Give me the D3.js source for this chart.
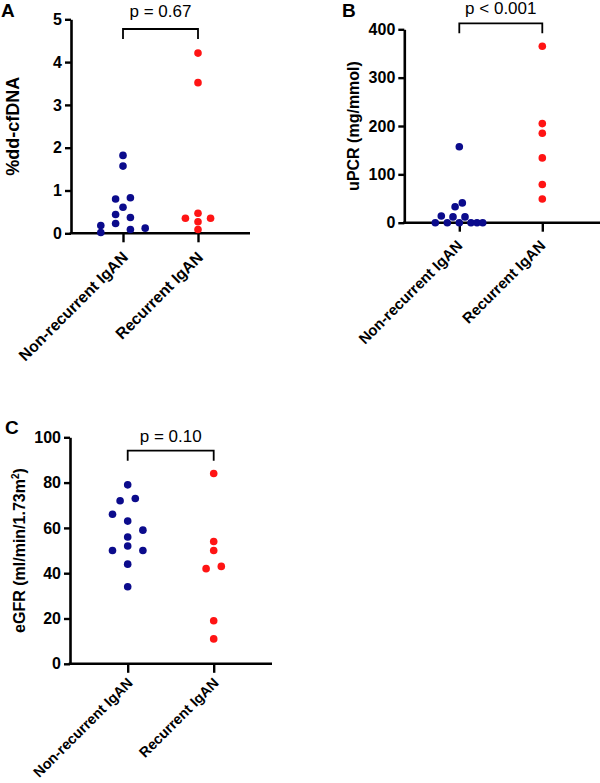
<!DOCTYPE html>
<html>
<head>
<meta charset="utf-8">
<script src="https://cdn.jsdelivr.net/npm/d3@7"></script>
<style>
  body { margin: 0; background: #fff; }
  svg { display: block; font-family: "Liberation Sans", Arial, sans-serif; }
</style>
</head>
<body>
<svg id="chart" width="600" height="783"></svg>
<script>
const categories = ["Non-recurrent IgAN", "Recurrent IgAN"];

// A: %dd-cfDNA
const cfdnaNonRec = [1.82, 1.57, 0.80, 0.83, 0.61, 0.44, 0.37, 0.23, 0.18, 0.02, 0.09, 0.12];
const cfdnaRec = [4.21, 3.52, 0.47, 0.35, 0.35, 0.27, 0.09];
const cfdnaSlotNonRec = [0, 0, -1, 1, 0, -1, 1, -1, -3, -3, 1, 3];
const cfdnaSlotRec = [0, 0, 0, -1.7, 1.7, 0, 0];

// B: uPCR
const upcrNonRec = [157, 33, 41, 14, 12, 12, 0, 0, 0, 0, 0, 0];
const upcrRec = [365, 205, 185, 134, 79, 49];
const upcrSlotNonRec = [0, -0.7, 0.5, -3, -1.05, 0.95, -4, -2, 0, 1.95, 2.95, 3.9];
const upcrSlotRec = [0, 0, 0, 0, 0, 0];

// C: eGFR
const egfrNonRec = [79, 72, 73, 66, 63, 59, 56, 50, 52, 50, 44, 34];
const egfrRec = [84, 54, 50, 42, 43, 19, 11];
const egfrSlotNonRec = [0, -1, 1, -2, 0, 2, 0, -2, 0, 2, 0, 0];
const egfrSlotRec = [0, 0, 0, -1, 1, 0, 0];

const pValues = ["p = 0.67", "p < 0.001", "p = 0.10"];
const yLabels = ["%dd-cfDNA", "uPCR (mg/mmol)", "eGFR (ml/min/1.73m"];
const yTicksA = [0, 1, 2, 3, 4, 5];
const yTicksB = [0, 100, 200, 300, 400];
const yTicksC = [0, 20, 40, 60, 80, 100];

const BLUE = "#0b0b8c";
const RED = "#ff1414";
const R = 3.8;
const FONT = "Liberation Sans, Arial, sans-serif";

const svg = d3.select("#chart");

function drawPanel(cfg) {
    const g = svg.append("g");

    const y = d3.scaleLinear().domain(cfg.domain).range([cfg.yBottom, cfg.yTop]);
    const x = d3.scalePoint().domain(categories).range(cfg.catRange);
    const jitter = d3.scaleLinear().domain([-1, 1]).range([-cfg.slot, cfg.slot]);

    // y axis
    const yAxis = g.append("g")
        .attr("transform", `translate(${cfg.xLeft},0)`)
        .call(d3.axisLeft(y).tickValues(cfg.ticks).tickFormat(d3.format("d"))
            .tickSize(6).tickPadding(3).tickSizeOuter(0));
    yAxis.select(".domain").attr("stroke-width", 2.6);
    yAxis.selectAll(".tick line").attr("stroke-width", 2.4);
    yAxis.selectAll(".tick text")
        .attr("font-size", cfg.tickFont).attr("font-weight", "bold").attr("fill", "#000")
        .attr("font-family", FONT);

    // x axis
    const xAxis = g.append("g")
        .attr("transform", `translate(0,${cfg.yBottom})`)
        .call(d3.axisBottom(x).tickSize(9).tickSizeOuter(0));
    xAxis.select(".domain").remove();
    xAxis.append("line")
        .attr("x1", cfg.xLeft - 1.3).attr("x2", cfg.xRight)
        .attr("stroke", "#000").attr("stroke-width", 2.6);
    xAxis.selectAll(".tick line").attr("stroke-width", 2.4);
    xAxis.selectAll(".tick text").remove();
    xAxis.selectAll(".tick")
        .append("text")
        .attr("text-anchor", "end")
        .attr("transform", `translate(${cfg.catDx},${cfg.catDy}) rotate(-45)`)
        .attr("font-size", cfg.catFont).attr("font-weight", "bold").attr("fill", "#000")
        .attr("font-family", FONT)
        .text(d => d);

    // points
    const pts = [];
    cfg.nonRec.forEach((v, i) => pts.push({ cat: categories[0], v, s: cfg.slotNonRec[i], c: BLUE }));
    cfg.rec.forEach((v, i) => pts.push({ cat: categories[1], v, s: cfg.slotRec[i], c: RED }));
    g.selectAll("circle.pt")
        .data(pts)
        .enter()
        .append("circle")
        .attr("class", "pt")
        .attr("cx", d => x(d.cat) + jitter(d.s))
        .attr("cy", d => y(d.v))
        .attr("r", R)
        .attr("fill", d => d.c);

    // significance bracket
    const x1 = x(categories[0]), x2 = x(categories[1]);
    g.append("path")
        .attr("d", `M${x1},${cfg.bracketY + 10}V${cfg.bracketY}H${x2}V${cfg.bracketY + 10}`)
        .attr("fill", "none").attr("stroke", "#000").attr("stroke-width", 1.8);
    g.append("text")
        .attr("x", (x1 + x2) / 2).attr("y", cfg.pY)
        .attr("text-anchor", "middle")
        .attr("font-size", 17).attr("fill", "#000")
        .text(cfg.p);

    // y label
    const yl = g.append("text")
        .attr("transform", `translate(${cfg.labelX},${(cfg.yTop + cfg.yBottom) / 2}) rotate(-90)`)
        .attr("text-anchor", "middle")
        .attr("font-size", cfg.labelFont).attr("font-weight", "bold").attr("fill", "#000")
        .text(cfg.label);
    if (cfg.sup) {
        yl.append("tspan").attr("font-size", 10).attr("dy", -6).text(cfg.sup);
        yl.append("tspan").attr("dy", 6).text(")");
    }

    // panel letter
    g.append("text")
        .attr("x", cfg.letterX).attr("y", cfg.letterY)
        .attr("font-size", 19).attr("font-weight", "bold")
        .text(cfg.letter);
}

drawPanel({
    letter: "A", letterX: 1, letterY: 17,
    domain: [0, 5], ticks: yTicksA, yTop: 19.3, yBottom: 233.3,
    xLeft: 71, xRight: 250, catRange: [123, 198], slot: 7.4,
    nonRec: cfdnaNonRec, rec: cfdnaRec, slotNonRec: cfdnaSlotNonRec, slotRec: cfdnaSlotRec,
    bracketY: 29, pY: 17, p: pValues[0], label: yLabels[0], labelX: 18.5, labelFont: 18,
    tickFont: 16, catFont: 15.8, catDx: 5.5, catDy: 25
});

drawPanel({
    letter: "B", letterX: 342, letterY: 17,
    domain: [0, 400], ticks: yTicksB, yTop: 29.3, yBottom: 222.7,
    xLeft: 404.3, xRight: 600, catRange: [459.3, 542.3], slot: 6,
    nonRec: upcrNonRec, rec: upcrRec, slotNonRec: upcrSlotNonRec, slotRec: upcrSlotRec,
    bracketY: 23.3, pY: 13.5, p: pValues[1], label: yLabels[1], labelX: 359, labelFont: 16,
    tickFont: 16, catFont: 15, catDx: 3.5, catDy: 24
});

drawPanel({
    letter: "C", letterX: 5, letterY: 433.5,
    domain: [0, 100], ticks: yTicksC, yTop: 437.3, yBottom: 663.8,
    xLeft: 70, xRight: 272, catRange: [127.7, 213.7], slot: 7.6,
    nonRec: egfrNonRec, rec: egfrRec, slotNonRec: egfrSlotNonRec, slotRec: egfrSlotRec,
    bracketY: 450.7, pY: 441.7, p: pValues[2], label: yLabels[2], sup: "2", labelX: 25, labelFont: 16,
    tickFont: 16, catFont: 14.4, catDx: 5.5, catDy: 20
});
</script>
</body>
</html>
